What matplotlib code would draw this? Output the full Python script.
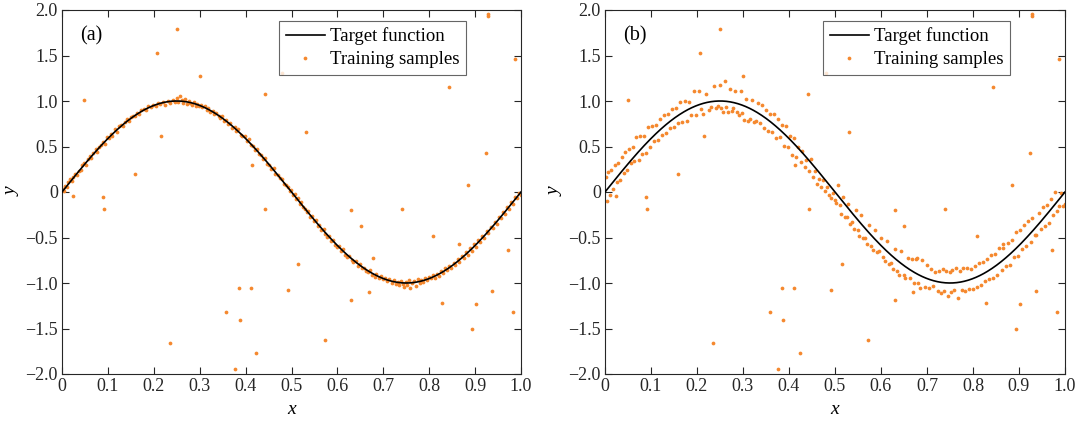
import numpy as np
import matplotlib
matplotlib.use("Agg")
import matplotlib.pyplot as plt
from matplotlib.ticker import FuncFormatter

plt.rcParams['font.family'] = ['Liberation Serif', 'DejaVu Serif']

# training samples near the curve (same x in both panels)
x_train = [
    0.002, 0.004, 0.007, 0.011, 0.014, 0.018, 0.021, 0.025, 0.029, 0.032, 0.036, 0.041, 0.044, 0.048, 0.052,
    0.056, 0.061, 0.064, 0.068, 0.073, 0.077, 0.080, 0.085, 0.089, 0.093, 0.097, 0.102, 0.106, 0.110, 0.115,
    0.119, 0.124, 0.128, 0.133, 0.137, 0.141, 0.146, 0.150, 0.155, 0.159, 0.164, 0.168, 0.173, 0.178, 0.183,
    0.188, 0.193, 0.198, 0.204, 0.209, 0.214, 0.219, 0.225, 0.230, 0.236, 0.241, 0.246,
    0.250, 0.253, 0.257, 0.261, 0.264, 0.268, 0.272, 0.276, 0.279, 0.283, 0.287, 0.291, 0.295, 0.298, 0.302,
    0.306, 0.311, 0.315, 0.319, 0.323, 0.328, 0.332, 0.336, 0.341, 0.345, 0.349, 0.354, 0.358, 0.362, 0.367,
    0.371, 0.376, 0.380, 0.384, 0.389, 0.393, 0.398, 0.402, 0.407, 0.411, 0.416, 0.420, 0.425, 0.429, 0.434,
    0.438, 0.443, 0.447, 0.452, 0.456, 0.461, 0.465, 0.470, 0.474, 0.479, 0.483, 0.488, 0.492, 0.496, 0.499,
    0.503, 0.507, 0.510, 0.514, 0.518, 0.521, 0.525, 0.529, 0.533, 0.537, 0.541, 0.545, 0.549, 0.553, 0.557,
    0.561, 0.565, 0.570, 0.574, 0.578, 0.582, 0.587, 0.591, 0.595, 0.600, 0.604, 0.608, 0.613, 0.617, 0.622,
    0.626, 0.631, 0.635, 0.640, 0.644, 0.649, 0.653, 0.658, 0.662, 0.667, 0.671, 0.676, 0.681, 0.685, 0.690,
    0.695, 0.699, 0.704, 0.709, 0.713, 0.718, 0.723, 0.727, 0.731, 0.735, 0.738, 0.742, 0.746, 0.749,
    0.752, 0.755, 0.759, 0.763, 0.767, 0.771, 0.775, 0.779, 0.783, 0.787, 0.791, 0.795, 0.799, 0.804, 0.808,
    0.812, 0.817, 0.821, 0.826, 0.830, 0.835, 0.839, 0.844, 0.848, 0.853, 0.857, 0.862, 0.866, 0.871, 0.875,
    0.880, 0.884, 0.889, 0.893, 0.898, 0.902, 0.907, 0.911, 0.916, 0.920, 0.925, 0.929, 0.934, 0.938, 0.943,
    0.947, 0.952, 0.956, 0.961, 0.965, 0.970, 0.974, 0.979, 0.983, 0.988, 0.992, 0.996, 0.999,
]

y_train_a = [
    0.03, 0.01, 0.07, 0.05, 0.11, 0.14, 0.12, 0.17, 0.20, 0.19, 0.23, 0.24, 0.30, 0.32, 0.30,
    0.36, 0.40, 0.37, 0.43, 0.47, 0.44, 0.50, 0.52, 0.55, 0.53, 0.60, 0.59, 0.64, 0.62, 0.69,
    0.66, 0.72, 0.74, 0.73, 0.77, 0.80, 0.78, 0.82, 0.84, 0.83, 0.87, 0.86, 0.90, 0.91, 0.90,
    0.94, 0.93, 0.96, 0.95, 0.98, 0.97, 0.99, 0.96, 1.00, 0.98, 1.01, 0.99,
    1.03, 0.99, 1.05, 1.01, 0.98, 1.02, 0.97, 1.00, 0.98, 0.96, 0.99, 0.95, 0.97, 0.94, 0.96,
    0.93, 0.94, 0.90, 0.92, 0.88, 0.89, 0.86, 0.87, 0.84, 0.81, 0.83, 0.78, 0.79, 0.75, 0.76,
    0.70, 0.71, 0.67, 0.69, 0.63, 0.61, 0.62, 0.56, 0.58, 0.52, 0.51, 0.46, 0.47, 0.42, 0.41,
    0.36, 0.37, 0.31, 0.30, 0.25, 0.26, 0.20, 0.19, 0.15, 0.14, 0.09, 0.08, 0.06, 0.01, 0.02,
    -0.03, -0.02, -0.08, -0.07, -0.13, -0.11, -0.17, -0.19, -0.22, -0.21, -0.27, -0.26, -0.32, -0.31, -0.37,
    -0.36, -0.42, -0.41, -0.46, -0.49, -0.48, -0.54, -0.53, -0.58, -0.60, -0.59, -0.65, -0.63, -0.69, -0.71,
    -0.70, -0.75, -0.77, -0.76, -0.81, -0.79, -0.84, -0.83, -0.87, -0.88, -0.86, -0.91, -0.93, -0.90, -0.95,
    -0.92, -0.96, -0.94, -0.98, -0.96, -1.00, -0.97, -1.01, -0.99, -1.02, -0.98, -1.01, -1.04, -0.99,
    -1.02, -0.97, -1.05, -1.00, -0.98, -1.03, -0.96, -1.00, -0.97, -0.99, -0.95, -0.97, -0.93, -0.95, -0.91,
    -0.94, -0.90, -0.92, -0.87, -0.89, -0.84, -0.86, -0.81, -0.83, -0.78, -0.80, -0.74, -0.77, -0.70, -0.72,
    -0.66, -0.69, -0.62, -0.65, -0.57, -0.60, -0.53, -0.55, -0.48, -0.50, -0.43, -0.45, -0.38, -0.40, -0.33,
    -0.35, -0.27, -0.29, -0.22, -0.24, -0.17, -0.19, -0.11, -0.13, -0.06, -0.07, -0.01, -0.03,
]

y_train_b = [
    0.17, -0.10, 0.22, -0.03, 0.24, 0.03, 0.30, 0.11, 0.32, 0.13, 0.38, 0.21, 0.44, 0.24, 0.47,
    0.32, 0.49, 0.34, 0.60, 0.35, 0.61, 0.42, 0.62, 0.43, 0.71, 0.49, 0.72, 0.56, 0.74, 0.57,
    0.80, 0.63, 0.85, 0.65, 0.86, 0.70, 0.91, 0.71, 0.92, 0.76, 0.99, 0.77, 1.00, 0.78, 0.99,
    0.85, 1.11, 0.85, 1.11, 0.91, 0.86, 1.08, 0.90, 0.93, 1.16, 0.92, 0.95,
    1.18, 0.92, 0.88, 1.22, 0.93, 0.88, 1.13, 0.89, 0.92, 1.11, 0.88, 0.85, 1.11, 0.87, 0.79,
    1.02, 0.78, 0.80, 1.01, 0.77, 0.78, 0.98, 0.76, 0.96, 0.70, 0.90, 0.67, 0.86, 0.66, 0.86,
    0.59, 0.80, 0.60, 0.74, 0.51, 0.72, 0.50, 0.61, 0.41, 0.59, 0.38, 0.49, 0.33, 0.45, 0.27,
    0.35, 0.23, 0.36, 0.17, 0.23, 0.09, 0.14, 0.05, 0.13, 0.01, 0.05, -0.03, -0.07, -0.01, -0.09,
    -0.12, 0.08, -0.14, -0.24, -0.05, -0.27, -0.28, -0.13, -0.35, -0.33, -0.41, -0.20, -0.42, -0.48, -0.25,
    -0.50, -0.50, -0.57, -0.36, -0.59, -0.64, -0.42, -0.66, -0.65, -0.50, -0.71, -0.76, -0.54, -0.79, -0.78,
    -0.85, -0.63, -0.87, -0.91, -0.65, -0.91, -0.95, -0.72, -0.94, -0.74, -1.00, -0.74, -1.00, -1.05, -0.75,
    -1.04, -0.80, -1.05, -0.85, -1.03, -0.88, -1.09, -0.87, -1.11, -0.85, -1.09, -0.87, -1.14, -0.88,
    -1.10, -0.86, -1.08, -0.84, -1.17, -0.87, -1.08, -0.83, -1.09, -0.83, -1.07, -0.85, -1.07, -0.81, -1.04,
    -0.78, -1.02, -0.77, -0.98, -0.74, -0.96, -0.69, -0.95, -0.68, -0.91, -0.62, -0.86, -0.61, -0.81, -0.56,
    -0.80, -0.53, -0.71, -0.44, -0.70, -0.42, -0.63, -0.36, -0.59, -0.32, -0.55, -0.29, -0.47, -0.47, -0.23,
    -0.41, -0.16, -0.37, -0.14, -0.34, -0.08, -0.25, 0.00, -0.21, -0.15, -0.01, -0.15, -0.13,
]

# outliers, identical in both panels
x_out = [0.250, 0.207, 0.300, 0.480, 0.442, 0.049, 0.216, 0.531, 0.158, 0.413, 0.024, 0.089, 0.092,
         0.929, 0.929, 0.987, 0.843, 0.924, 0.884,
         0.443, 0.630, 0.740, 0.651, 0.515, 0.809, 0.865, 0.678, 0.972, 0.669, 0.492, 0.385, 0.411,
         0.630, 0.828, 0.903, 0.936, 0.983, 0.358, 0.387, 0.894, 0.235, 0.572, 0.423, 0.376]
y_out = [1.79, 1.53, 1.28, 1.31, 1.08, 1.01, 0.61, 0.66, 0.20, 0.30, -0.04, -0.05, -0.19,
         1.93, 1.96, 1.46, 1.15, 0.43, 0.08,
         -0.185, -0.20, -0.185, -0.375, -0.79, -0.485, -0.57, -0.72, -0.635, -1.10, -1.08, -1.05, -1.05,
         -1.19, -1.22, -1.23, -1.09, -1.32, -1.32, -1.41, -1.50, -1.66, -1.63, -1.77, -1.95]

panel_labels = ['(a)', '(b)']
orange = '#F5882E'

x_line = np.linspace(0, 1, 600)
y_line = np.sin(2 * np.pi * x_line)


def fmt(v, pos):
    if abs(v) < 1e-9:
        return '0'
    return ('%.1f' % v).replace('-', '\u2212')


fig = plt.figure(figsize=(10.82, 4.21), dpi=100)
ax_a = fig.add_axes([62 / 1082, 1 - 374 / 421, 459 / 1082, 364 / 421])
ax_b = fig.add_axes([605 / 1082, 1 - 374 / 421, 460 / 1082, 364 / 421])

for ax, y_train, lab in zip([ax_a, ax_b], [y_train_a, y_train_b], panel_labels):
    ax.plot(x_line, y_line, color='black', lw=1.2, label='Target function', zorder=3)
    ax.plot(list(x_train) + x_out, list(y_train) + y_out, 'o', color=orange, ms=2.7,
            mec='none', label='Training samples', zorder=2)
    ax.set_xlim(0, 1)
    ax.set_ylim(-2, 2)
    ax.set_xticks(np.arange(0, 1.01, 0.1))
    ax.set_yticks(np.arange(-2, 2.01, 0.5))
    ax.xaxis.set_major_formatter(FuncFormatter(fmt))
    ax.yaxis.set_major_formatter(FuncFormatter(fmt))
    ax.tick_params(direction='in', top=True, right=True, length=5, width=0.8,
                   labelsize=13, colors='#262626', pad=3)
    for s in ax.spines.values():
        s.set_linewidth(0.8)
        s.set_color('#262626')
    ax.set_xlabel('x', fontstyle='italic', fontsize=14, labelpad=4)
    ax.set_ylabel('y', fontstyle='italic', fontsize=14, labelpad=3)
    ax.text(0.04, 0.93, lab, transform=ax.transAxes, fontsize=14.5, va='center', ha='left')
    leg = ax.legend(loc='upper right', bbox_to_anchor=(0.88, 0.97), borderaxespad=0,
                    fontsize=13.5, frameon=True, fancybox=False, handlelength=2.1,
                    handletextpad=0.25, borderpad=0.35, labelspacing=0.3, markerscale=1.0)
    leg.get_frame().set_edgecolor('#404040')
    leg.get_frame().set_linewidth(0.8)

fig.savefig('out.png', dpi=100)
